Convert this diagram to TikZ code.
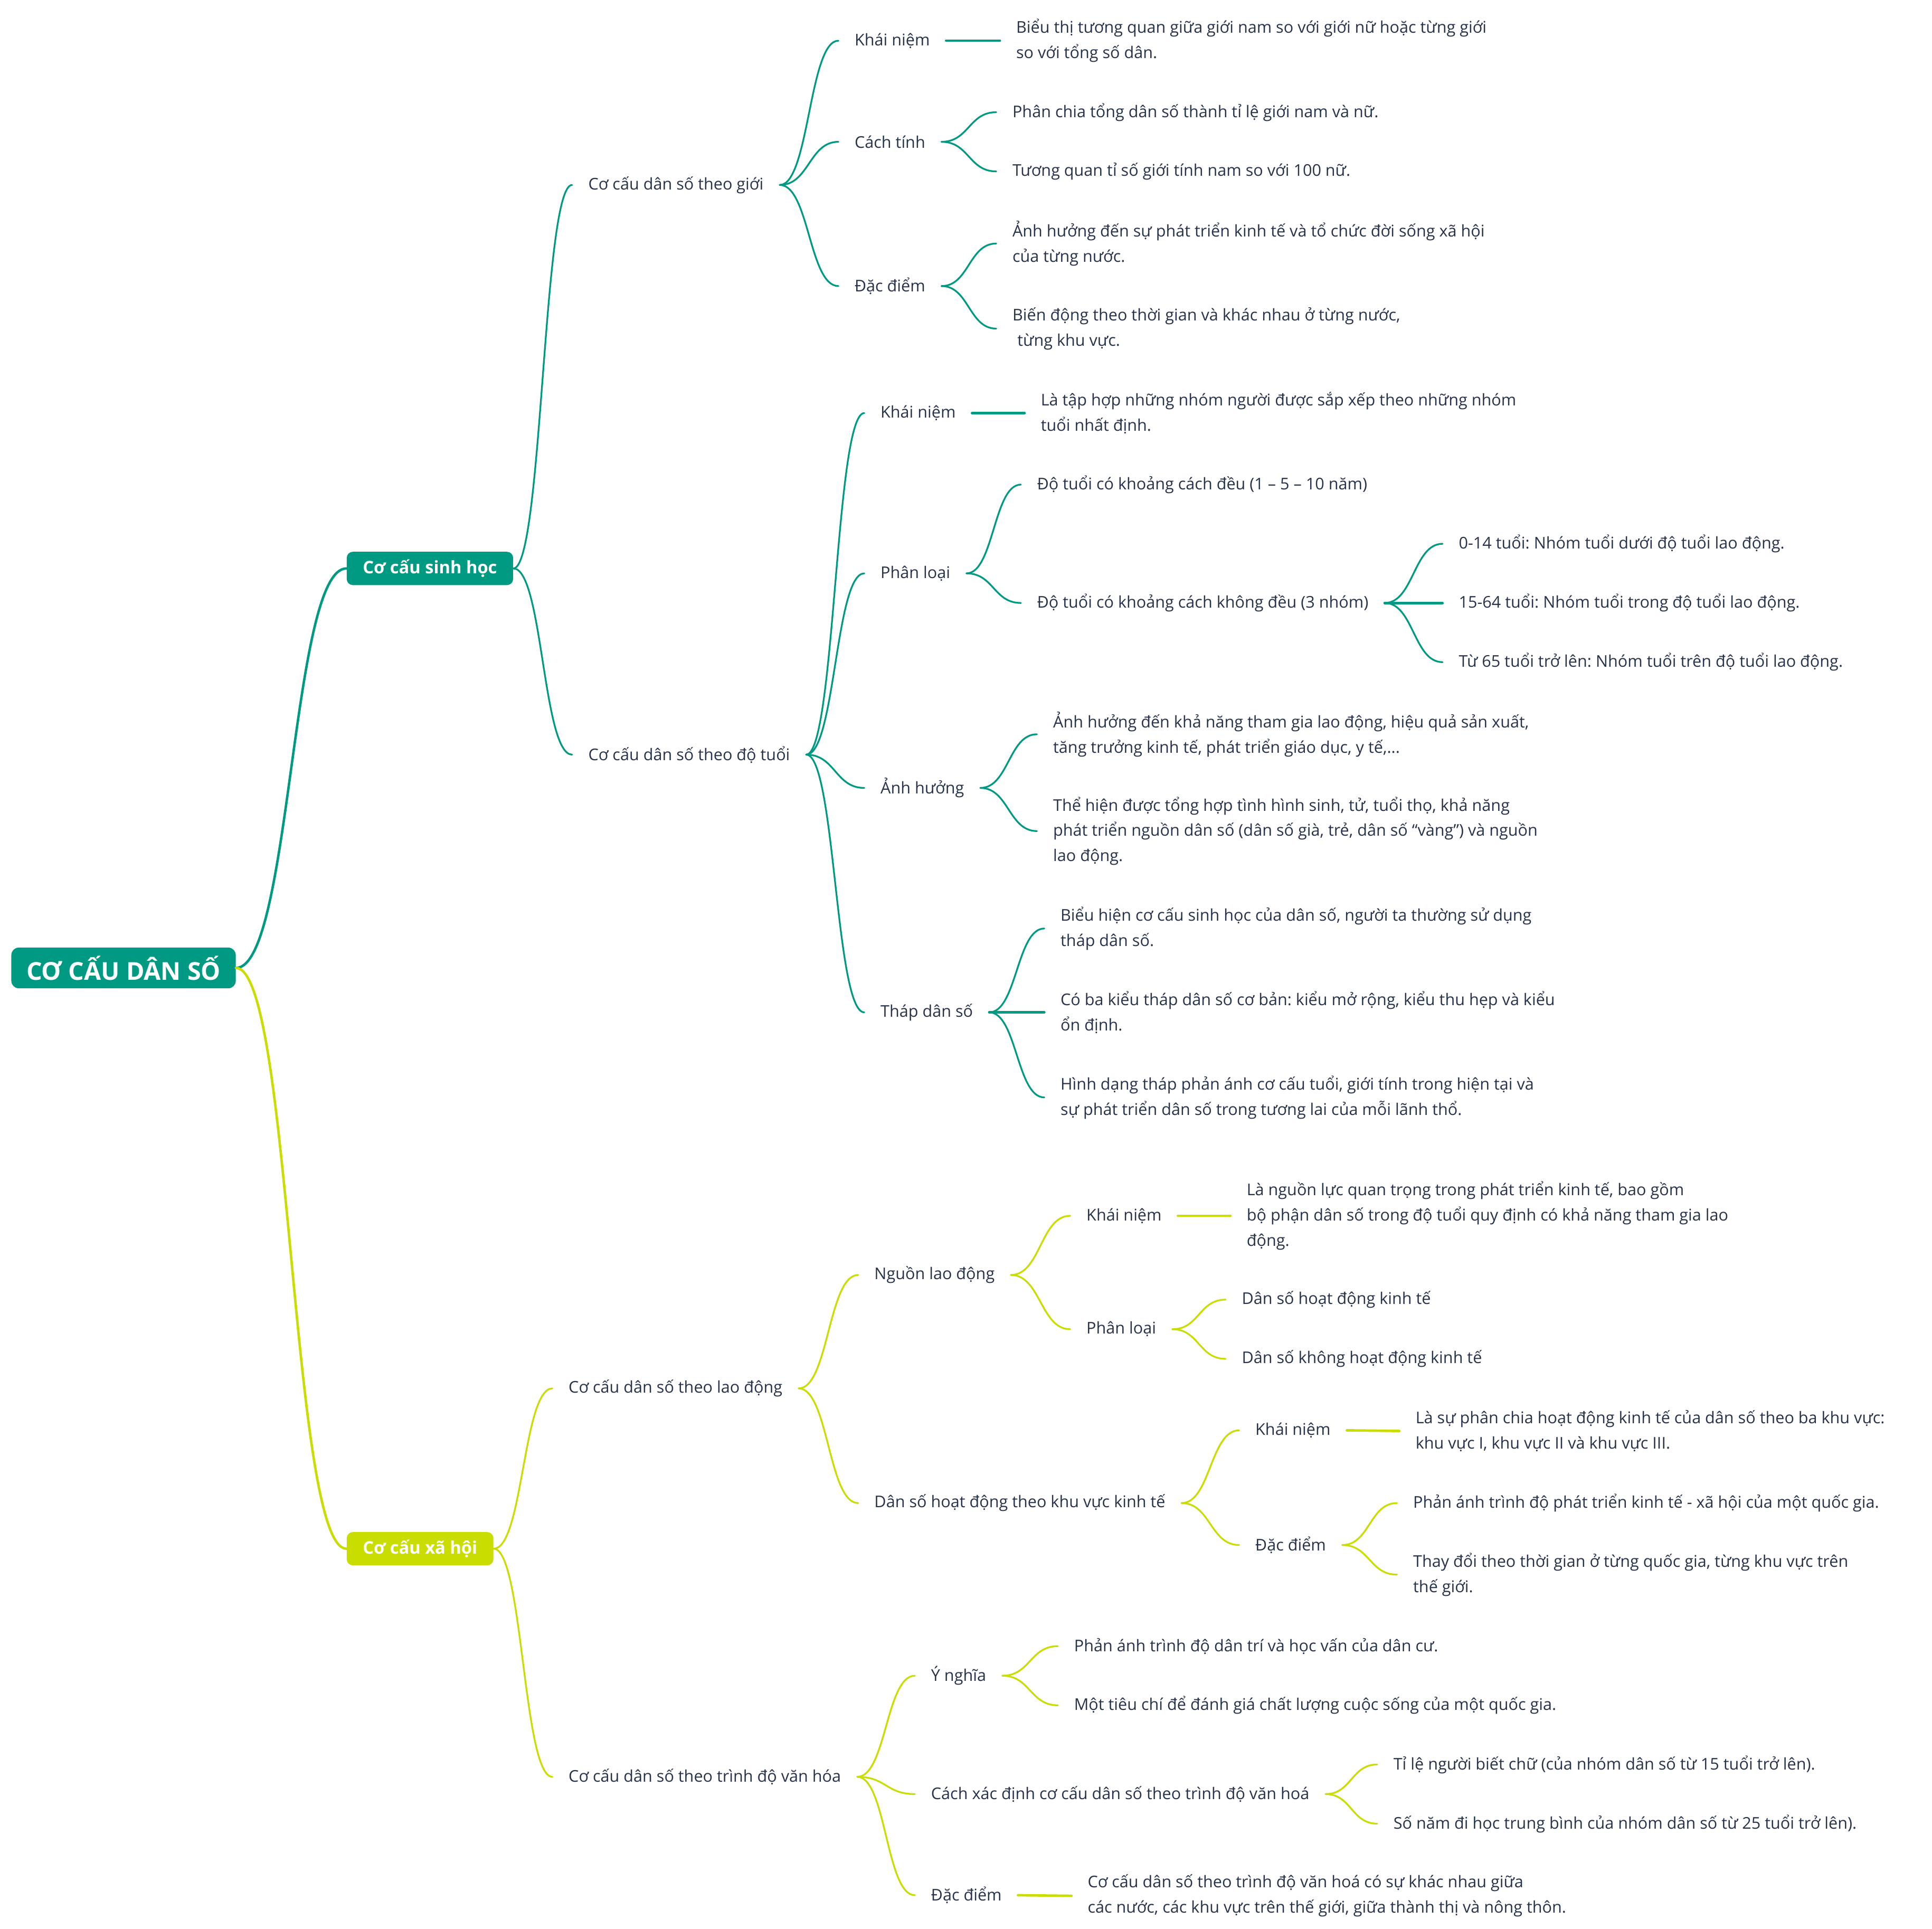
\documentclass[tikz,border=0pt]{standalone}
\usepackage{fontspec}
\setmainfont{Open Sans}
\frenchspacing
\usetikzlibrary{positioning, calc}
\definecolor{teal0}{HTML}{009A82}
\definecolor{lime0}{HTML}{C9DD00}
\definecolor{ink}{HTML}{26334B}
\tikzstyle{rootbox} = [fill=teal0, rounded corners=6pt, text=white, font=\bfseries\fontsize{20}{24}\selectfont, minimum width=182pt, minimum height=33pt, anchor=west]
\tikzstyle{mainbox} = [rounded corners=5pt, text=white, font=\bfseries\fontsize{14}{17}\selectfont, minimum height=27pt, anchor=west]
\tikzstyle{item} = [anchor=west, inner xsep=13pt, inner ysep=2pt, text=ink, font=\fontsize{13.1}{20.5}\selectfont, align=left]
\tikzset{branch/.style={to path={.. controls ($(\tikztostart)!0.5!(\tikztostart -| \tikztotarget)$) and ($(\tikztotarget)!0.5!(\tikztotarget -| \tikztostart)$) .. (\tikztotarget)}}}

\begin{document}
\begin{tikzpicture}[x=1pt, y=-1pt, line cap=round]
		\useasboundingbox[fill=white] (0,0) rectangle (1567,1564.4);

		\node[rootbox] (root) at (9,785) {CƠ CẤU DÂN SỐ};
		\node[mainbox, fill=teal0, minimum width=135pt] (sinh) at (281,461) {Cơ cấu sinh học};
		\node[mainbox, fill=lime0, minimum width=119pt] (xahoi) at (281,1256) {Cơ cấu xã hội};

		% co cau sinh hoc
		\node[item] (gioi) at (464,150) {Cơ cấu dân số theo giới};
		\node[item] (tuoi) at (464,612) {Cơ cấu dân số theo độ tuổi};

		\node[item] (gKN) at (680,33) {Khái niệm};
		\node[item] (gCT) at (680,115) {Cách tính};
		\node[item] (gDD) at (680,232) {Đặc điểm};
		\node[item] (gKNa) at (811,33) {Biểu thị tương quan giữa giới nam so với giới nữ hoặc từng giới\\so với tổng số dân.};
		\node[item] (gCTa) at (808,91) {Phân chia tổng dân số thành tỉ lệ giới nam và nữ.};
		\node[item] (gCTb) at (808,139) {Tương quan tỉ số giới tính nam so với 100 nữ.};
		\node[item] (gDDa) at (808,197.5) {Ảnh hưởng đến sự phát triển kinh tế và tổ chức đời sống xã hội\\của từng nước.};
		\node[item] (gDDb) at (808,266.5) {Biến động theo thời gian và khác nhau ở từng nước,\\\hspace*{4pt}từng khu vực.};

		\node[item] (tKN) at (701,335) {Khái niệm};
		\node[item] (tPL) at (701,465) {Phân loại};
		\node[item] (tAH) at (701,639) {Ảnh hưởng};
		\node[item] (tTD) at (701,821) {Tháp dân số};
		\node[item] (tKNa) at (831,335) {Là tập hợp những nhóm người được sắp xếp theo những nhóm\\tuổi nhất định.};
		\node[item] (tPLa) at (828,393) {Độ tuổi có khoảng cách đều (1 – 5 – 10 năm)};
		\node[item] (tPLb) at (828,489) {Độ tuổi có khoảng cách không đều (3 nhóm)};
		\node[item] (tPLb1) at (1170,441) {0-14 tuổi: Nhóm tuổi dưới độ tuổi lao động.};
		\node[item] (tPLb2) at (1170,489) {15-64 tuổi: Nhóm tuổi trong độ tuổi lao động.};
		\node[item] (tPLb3) at (1170,537) {Từ 65 tuổi trở lên: Nhóm tuổi trên độ tuổi lao động.};
		\node[item] (tAHa) at (841,595.5) {Ảnh hưởng đến khả năng tham gia lao động, hiệu quả sản xuất,\\tăng trưởng kinh tế, phát triển giáo dục, y tế,...};
		\node[item] (tAHb) at (841,674) {Thể hiện được tổng hợp tình hình sinh, tử, tuổi thọ, khả năng\\phát triển nguồn dân số (dân số già, trẻ, dân số “vàng”) và nguồn\\lao động.};
		\node[item] (tTDa) at (847,753) {Biểu hiện cơ cấu sinh học của dân số, người ta thường sử dụng\\tháp dân số.};
		\node[item] (tTDb) at (847,821) {Có ba kiểu tháp dân số cơ bản: kiểu mở rộng, kiểu thu hẹp và kiểu\\ổn định.};
		\node[item] (tTDc) at (847,890) {Hình dạng tháp phản ánh cơ cấu tuổi, giới tính trong hiện tại và\\sự phát triển dân số trong tương lai của mỗi lãnh thổ.};

		% co cau xa hoi
		\node[item] (ld) at (448,1126) {Cơ cấu dân số theo lao động};
		\node[item] (vh) at (448,1441) {Cơ cấu dân số theo trình độ văn hóa};

		\node[item] (nld) at (696,1034) {Nguồn lao động};
		\node[item] (kvkt) at (696,1219) {Dân số hoạt động theo khu vực kinh tế};
		\node[item] (nKN) at (868,986) {Khái niệm};
		\node[item] (nPL) at (868,1078) {Phân loại};
		\node[item] (nKNa) at (998,986) {Là nguồn lực quan trọng trong phát triển kinh tế, bao gồm\\bộ phận dân số trong độ tuổi quy định có khả năng tham gia lao\\động.};
		\node[item] (nPLa) at (994,1054) {Dân số hoạt động kinh tế};
		\node[item] (nPLb) at (994,1102) {Dân số không hoạt động kinh tế};
		\node[item] (kKN) at (1005,1160) {Khái niệm};
		\node[item] (kDD) at (1005,1253) {Đặc điểm};
		\node[item] (kKNa) at (1135,1160.5) {Là sự phân chia hoạt động kinh tế của dân số theo ba khu vực:\\khu vực I, khu vực II và khu vực III.};
		\node[item] (kDDa) at (1133,1219) {Phản ánh trình độ phát triển kinh tế - xã hội của một quốc gia.};
		\node[item] (kDDb) at (1133,1277) {Thay đổi theo thời gian ở từng quốc gia, từng khu vực trên\\thế giới.};

		\node[item] (vYN) at (742,1359) {Ý nghĩa};
		\node[item] (vCX) at (742,1455) {Cách xác định cơ cấu dân số theo trình độ văn hoá};
		\node[item] (vDD) at (742,1537) {Đặc điểm};
		\node[item] (vYNa) at (858,1335) {Phản ánh trình độ dân trí và học vấn của dân cư.};
		\node[item] (vYNb) at (858,1383) {Một tiêu chí để đánh giá chất lượng cuộc sống của một quốc gia.};
		\node[item] (vCXa) at (1117,1431) {Tỉ lệ người biết chữ (của nhóm dân số từ 15 tuổi trở lên).};
		\node[item] (vCXb) at (1117,1479) {Số năm đi học trung bình của nhóm dân số từ 25 tuổi trở lên).};
		\node[item] (vDDa) at (869,1537.5) {Cơ cấu dân số theo trình độ văn hoá có sự khác nhau giữa\\các nước, các khu vực trên thế giới, giữa thành thị và nông thôn.};

		\draw[teal0, line width=2pt] (root.east) to[branch] (sinh.west);
		\draw[lime0, line width=2pt] (root.east) to[branch] (xahoi.west);

		\begin{scope}[teal0, line width=1.4pt]
		\draw (sinh.east) to[branch] (gioi.west);
		\draw (sinh.east) to[branch] (tuoi.west);
		\draw (gioi.east) to[branch] (gKN.west);
		\draw (gioi.east) to[branch] (gCT.west);
		\draw (gioi.east) to[branch] (gDD.west);
		\draw[line width=2pt] (gKN.east) -- (gKNa.west);
		\draw (gCT.east) to[branch] (gCTa.west);
		\draw (gCT.east) to[branch] (gCTb.west);
		\draw (gDD.east) to[branch] (gDDa.west);
		\draw (gDD.east) to[branch] (gDDb.west);
		\draw (tuoi.east) to[branch] (tKN.west);
		\draw (tuoi.east) to[branch] (tPL.west);
		\draw (tuoi.east) to[branch] (tAH.west);
		\draw (tuoi.east) to[branch] (tTD.west);
		\draw[line width=2pt] (tKN.east) -- (tKNa.west);
		\draw (tPL.east) to[branch] (tPLa.west);
		\draw (tPL.east) to[branch] (tPLb.west);
		\draw (tPLb.east) to[branch] (tPLb1.west);
		\draw[line width=2pt] (tPLb.east) -- (tPLb2.west);
		\draw (tPLb.east) to[branch] (tPLb3.west);
		\draw (tAH.east) to[branch] (tAHa.west);
		\draw (tAH.east) to[branch] (tAHb.west);
		\draw (tTD.east) to[branch] (tTDa.west);
		\draw[line width=2pt] (tTD.east) -- (tTDb.west);
		\draw (tTD.east) to[branch] (tTDc.west);
		\end{scope}

		\begin{scope}[lime0, line width=1.4pt]
		\draw (xahoi.east) to[branch] (ld.west);
		\draw (xahoi.east) to[branch] (vh.west);
		\draw (ld.east) to[branch] (nld.west);
		\draw (ld.east) to[branch] (kvkt.west);
		\draw (nld.east) to[branch] (nKN.west);
		\draw (nld.east) to[branch] (nPL.west);
		\draw[line width=2pt] (nKN.east) -- (nKNa.west);
		\draw (nPL.east) to[branch] (nPLa.west);
		\draw (nPL.east) to[branch] (nPLb.west);
		\draw (kvkt.east) to[branch] (kKN.west);
		\draw (kvkt.east) to[branch] (kDD.west);
		\draw[line width=2pt] (kKN.east) -- (kKNa.west);
		\draw (kDD.east) to[branch] (kDDa.west);
		\draw (kDD.east) to[branch] (kDDb.west);
		\draw (vh.east) to[branch] (vYN.west);
		\draw (vh.east) to[branch] (vCX.west);
		\draw (vh.east) to[branch] (vDD.west);
		\draw (vYN.east) to[branch] (vYNa.west);
		\draw (vYN.east) to[branch] (vYNb.west);
		\draw (vCX.east) to[branch] (vCXa.west);
		\draw (vCX.east) to[branch] (vCXb.west);
		\draw[line width=2pt] (vDD.east) -- (vDDa.west);
		\end{scope}
\end{tikzpicture}
\end{document}
